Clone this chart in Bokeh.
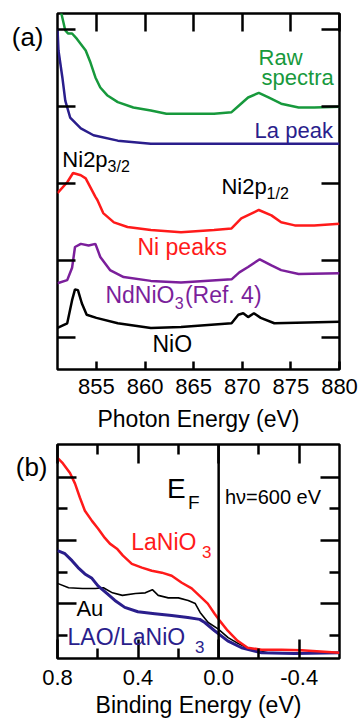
from bokeh.plotting import figure
from bokeh.models import Range1d, FixedTicker, LinearAxis, Label, Span, PrintfTickFormatter
from bokeh.layouts import column
from bokeh.embed import file_html
from bokeh.resources import INLINE

FONT = "Liberation Sans"

# ---------------- Panel (a) data: Photon energy (eV) vs intensity (arb., offset) ----
raw_x = [851.2, 851.4, 851.8, 852.1, 852.5, 853.0, 853.9, 854.4, 854.9, 855.4, 856.1, 857.2,
         858.8, 860.6, 862.2, 863.8, 865.5, 867.1, 868.9, 869.7, 870.6, 871.7, 872.7, 874.0,
         875.8, 877.4, 880.0]
raw_y = [4.50, 4.21, 3.99, 3.95, 3.95, 3.88, 3.73, 3.57, 3.38, 3.25, 3.15, 3.06,
         2.99, 2.95, 2.91, 2.91, 2.91, 2.91, 2.93, 3.02, 3.12, 3.18, 3.12, 3.04,
         2.99, 2.99, 3.00]

la_x = [851.0, 851.1, 851.5, 851.8, 852.3, 853.4, 854.7, 857.2, 860.6, 863.7, 880.0]
la_y = [4.01, 3.73, 3.38, 3.08, 2.86, 2.72, 2.63, 2.56, 2.52, 2.52, 2.52]

ni_x = [851.0, 852.0, 852.6, 853.4, 853.9, 854.4, 854.9, 855.1, 855.7, 856.8, 858.2, 860.6,
        863.7, 867.1, 868.9, 869.9, 871.7, 873.0, 874.0, 875.4, 877.4, 880.0]
ni_y = [1.88, 2.02, 2.14, 2.11, 2.07, 1.95, 1.83, 1.79, 1.62, 1.50, 1.44, 1.40,
        1.37, 1.40, 1.42, 1.55, 1.66, 1.59, 1.50, 1.46, 1.46, 1.48]

nd_x = [851.0, 852.0, 852.5, 852.8, 853.4, 854.2, 854.9, 855.4, 856.4, 857.8, 860.6, 863.7,
        868.9, 869.7, 870.6, 871.8, 873.0, 874.0, 875.8, 880.0]
nd_y = [0.71, 0.75, 0.91, 1.18, 1.22, 1.20, 1.22, 1.05, 0.88, 0.79, 0.74, 0.72,
        0.76, 0.85, 0.92, 1.02, 0.94, 0.88, 0.83, 0.84]

nio_x = [851.0, 852.0, 852.5, 852.8, 853.1, 853.5, 854.0, 855.0, 857.2, 860.6, 863.7, 868.9,
         869.6, 870.1, 870.6, 871.2, 871.9, 873.3, 880.0]
nio_y = [0.13, 0.19, 0.49, 0.63, 0.62, 0.45, 0.30, 0.26, 0.19, 0.13, 0.14, 0.19,
         0.30, 0.32, 0.27, 0.32, 0.26, 0.19, 0.21]

a_xticks = [855, 860, 865, 870, 875, 880]
a_yticks = [0, 1, 2, 3, 4]

# ---------------- Panel (b) data: Binding energy (eV) vs intensity ----------------
lno_x = [0.80, 0.773, 0.738, 0.713, 0.689, 0.664, 0.629, 0.599, 0.565, 0.540, 0.505, 0.475,
         0.431, 0.381, 0.332, 0.282, 0.233, 0.183, 0.134, 0.084, 0.054, 0.020, -0.005,
         -0.045, -0.094, -0.144, -0.213, -0.312, -0.411, -0.600]
lno_y = [3.31, 3.22, 3.07, 2.90, 2.68, 2.47, 2.31, 2.19, 2.04, 1.95, 1.87, 1.76,
         1.63, 1.57, 1.52, 1.49, 1.44, 1.33, 1.24, 1.09, 1.00, 0.84, 0.73,
         0.57, 0.41, 0.30, 0.27, 0.27, 0.26, 0.22]

au_x = [0.80, 0.745, 0.676, 0.612, 0.572, 0.527, 0.478, 0.413, 0.364, 0.329, 0.300, 0.250,
        0.200, 0.151, 0.116, 0.092, 0.052, 0.003, -0.047, -0.096, -0.146, -0.245, -0.379, -0.600]
au_y = [1.32, 1.25, 1.24, 1.24, 1.25, 1.17, 1.13, 1.16, 1.17, 1.22, 1.13, 1.09,
        1.09, 1.05, 1.00, 0.86, 0.70, 0.60, 0.46, 0.37, 0.29, 0.22, 0.22, 0.22]

lao_x = [0.80, 0.763, 0.728, 0.698, 0.664, 0.629, 0.599, 0.555, 0.515, 0.466, 0.401, 0.317,
         0.233, 0.153, 0.094, 0.069, 0.020, -0.045, -0.114, -0.213, -0.377, -0.600]
lao_y = [1.84, 1.79, 1.68, 1.57, 1.47, 1.40, 1.28, 1.16, 1.05, 0.94, 0.87, 0.84,
         0.81, 0.78, 0.75, 0.70, 0.57, 0.41, 0.30, 0.22, 0.21, 0.22]

b_xticks = [0.8, 0.4, 0.0, -0.4]
b_xminor = [0.6, 0.2, -0.2]
b_yticks = [1, 2, 3]
b_yminor = [0.5, 1.5, 2.5]

GREEN = "#17993c"
NAVY = "#2a1e8c"
RED = "#ff1a1a"
PURPLE = "#7b1f9b"


def style_axis(ax, tick_in, minor_in=0, labels=False):
    ax.axis_line_color = None
    ax.major_tick_in = tick_in
    ax.major_tick_out = 0
    ax.minor_tick_in = minor_in
    ax.minor_tick_out = 0
    ax.major_tick_line_width = 2.5
    ax.minor_tick_line_width = 2.5
    ax.major_tick_line_color = "black"
    ax.minor_tick_line_color = "black" if minor_in else None
    if labels:
        ax.major_label_text_font = FONT
        ax.major_label_text_font_size = "22px"
        ax.major_label_text_color = "black"
        ax.axis_label_text_font = FONT
        ax.axis_label_text_font_size = "23px"
        ax.axis_label_text_font_style = "normal"
        ax.axis_label_text_color = "black"
    else:
        ax.formatter = PrintfTickFormatter(format="")
        ax.major_label_text_font_size = "1px"
        ax.major_label_standoff = 0


def panel_tag(p, y, text, standoff):
    ax = LinearAxis(ticker=FixedTicker(ticks=[y]), formatter=PrintfTickFormatter(format=text))
    ax.axis_line_color = None
    ax.major_tick_line_color = None
    ax.major_tick_in = 0
    ax.major_tick_out = 0
    ax.minor_tick_line_color = None
    ax.major_label_standoff = standoff
    ax.major_label_text_font = FONT
    ax.major_label_text_font_size = "26px"
    ax.major_label_text_color = "black"
    p.add_layout(ax, "left")


def lab(p, x, y, text, color="black", size="23px"):
    p.add_layout(Label(x=x, y=y, text=text, text_color=color, text_font=FONT,
                       text_font_size=size, text_align="left", text_baseline="middle"))


# ---------------- Figure (a) ----------------
p1 = figure(frame_width=282, frame_height=356, x_range=Range1d(851, 880), y_range=Range1d(-0.41, 4.21),
            output_backend="svg", toolbar_location=None,
            min_border_left=57, min_border_right=21, min_border_top=13, min_border_bottom=70)
p1.xgrid.visible = False
p1.ygrid.visible = False
p1.outline_line_color = "black"
p1.outline_line_width = 2.5
p1.outline_line_alpha = 1.0

xb = p1.xaxis[0]
xb.ticker = FixedTicker(ticks=a_xticks)
style_axis(xb, 8, labels=True)
xb.axis_label = "Photon Energy (eV)"
xb.major_label_standoff = 9
xb.axis_label_standoff = 9
yl = p1.yaxis[0]
yl.ticker = FixedTicker(ticks=a_yticks)
style_axis(yl, 18)
xt = LinearAxis(ticker=FixedTicker(ticks=a_xticks))
style_axis(xt, 18)
p1.add_layout(xt, "above")
yr = LinearAxis(ticker=FixedTicker(ticks=a_yticks))
style_axis(yr, 18)
p1.add_layout(yr, "right")
panel_tag(p1, 3.905, "(a)", 14)

p1.line(raw_x, raw_y, line_color=GREEN, line_width=2.5)
p1.line(la_x, la_y, line_color=NAVY, line_width=2.5)
p1.line(ni_x, ni_y, line_color=RED, line_width=2.5)
p1.line(nd_x, nd_y, line_color=PURPLE, line_width=2.5)
p1.line(nio_x, nio_y, line_color="black", line_width=2.5)

lab(p1, 871.68, 3.645, "Raw", GREEN, "22px")
lab(p1, 871.99, 3.378, "spectra", GREEN, "22px")
lab(p1, 871.27, 2.690, "La peak", NAVY, "22px")
lab(p1, 851.5, 2.314, "Ni2p", size="22px")
lab(p1, 856.15, 2.220, "3/2", size="16px")
lab(p1, 867.86, 1.963, "Ni2p", size="22px")
lab(p1, 872.5, 1.874, "1/2", size="16px")
lab(p1, 859.22, 1.177, "Ni peaks", RED)
lab(p1, 855.93, 0.553, "NdNiO", PURPLE)
lab(p1, 863.05, 0.455, "3", PURPLE, "16px")
lab(p1, 864.1, 0.553, "(Ref. 4)", PURPLE)
lab(p1, 860.77, -0.083, "NiO")

# ---------------- Figure (b) ----------------
p2 = figure(frame_width=282, frame_height=214, x_range=Range1d(0.8, -0.6), y_range=Range1d(0.13, 3.52),
            output_backend="svg", toolbar_location=None,
            min_border_left=57, min_border_right=21, min_border_top=5, min_border_bottom=56)
p2.xgrid.visible = False
p2.ygrid.visible = False
p2.outline_line_color = "black"
p2.outline_line_width = 2.5
p2.outline_line_alpha = 1.0

xb2 = p2.xaxis[0]
xb2.ticker = FixedTicker(ticks=b_xticks, minor_ticks=b_xminor)
style_axis(xb2, 19, 10, labels=True)
xb2.formatter = PrintfTickFormatter(format="%.1f")
xb2.axis_label = "Binding Energy (eV)"
xb2.major_label_standoff = 11
xb2.axis_label_standoff = 4
yl2 = p2.yaxis[0]
yl2.ticker = FixedTicker(ticks=b_yticks, minor_ticks=b_yminor)
style_axis(yl2, 19, 10)
xt2 = LinearAxis(ticker=FixedTicker(ticks=b_xticks, minor_ticks=b_xminor))
style_axis(xt2, 19, 10)
p2.add_layout(xt2, "above")
yr2 = LinearAxis(ticker=FixedTicker(ticks=b_yticks, minor_ticks=b_yminor))
style_axis(yr2, 19, 10)
p2.add_layout(yr2, "right")
panel_tag(p2, 3.171, "(b)", 10)

p2.add_layout(Span(location=0.0, dimension="height", line_color="black", line_width=2.5))

p2.line(au_x, au_y, line_color="black", line_width=1.6)
p2.line(lao_x, lao_y, line_color=NAVY, line_width=3)
p2.line(lno_x, lno_y, line_color=RED, line_width=2.5)

lab(p2, 0.256, 2.823, "E", size="28px")
lab(p2, 0.152, 2.609, "F", size="19px")
lab(p2, -0.031, 2.683, "h\u03bd=600 eV", size="20px")
lab(p2, 0.434, 1.983, "LaNiO", RED)
lab(p2, 0.083, 1.817, "3", RED, "17px")
lab(p2, 0.706, 0.922, "Au", size="22px")
lab(p2, 0.75, 0.478, "LAO/LaNiO", NAVY)
lab(p2, 0.117, 0.312, "3", NAVY, "17px")

layout = column(p1, p2)
open("out.html", "w").write(file_html(layout, INLINE))
